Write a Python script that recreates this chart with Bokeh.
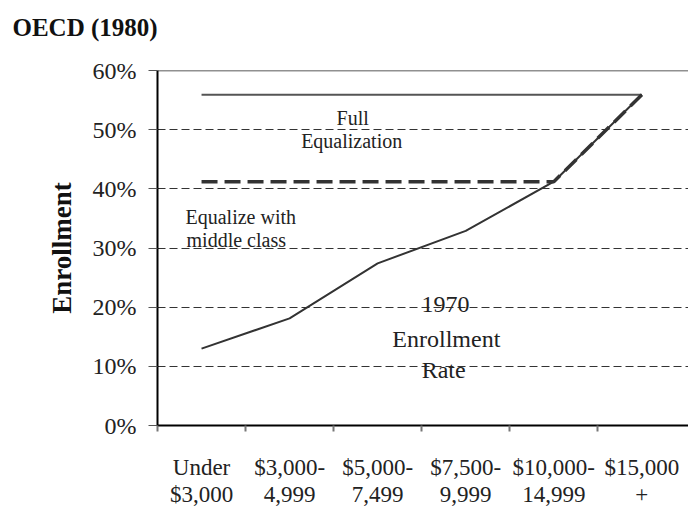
from bokeh.plotting import figure
from bokeh.models import Range1d, FixedTicker, NumeralTickFormatter, Span, Label, Title
from bokeh.embed import file_html
from bokeh.resources import INLINE

# ---- data ----
categories = ["Under\n$3,000", "$3,000-\n4,999", "$5,000-\n7,499",
              "$7,500-\n9,999", "$10,000-\n14,999", "$15,000\n+"]
enrollment_1970 = [0.13, 0.181, 0.274, 0.329, 0.412, 0.559]
full_equalization = [0.559, 0.559, 0.559, 0.559, 0.559, 0.559]
middle_class = [0.412, 0.412, 0.412, 0.412, 0.412, 0.559]
y_ticks = [0.0, 0.1, 0.2, 0.3, 0.4, 0.5, 0.6]
grid_ticks = [0.1, 0.2, 0.3, 0.4, 0.5]

SERIF = "Liberation Serif"

xs = [i + 0.5 for i in range(len(categories))]
bounds = list(range(len(categories)))

p = figure(width=688, height=510, output_backend="svg", toolbar_location=None,
           x_range=Range1d(0, 6.03), y_range=Range1d(0, 0.6),
           min_border_left=157, min_border_right=0, min_border_top=70,
           min_border_bottom=83, outline_line_color=None,
           background_fill_color="white", border_fill_color="white")

# chart title (a blank second line lifts it to the top of the canvas)
p.title = Title(text="OECD (1980)\n ", align="left", offset=-145,
                text_font=SERIF, text_font_size="25px", text_font_style="bold",
                text_color="#111111", vertical_align="bottom", standoff=6)

# x axis
xa = p.xaxis[0]
xa.ticker = FixedTicker(ticks=xs, minor_ticks=bounds)
xa.major_label_overrides = {x: c for x, c in zip(xs, categories)}
xa.major_tick_line_color = None
xa.major_tick_out = 0
xa.major_tick_in = 0
xa.minor_tick_out = 6
xa.minor_tick_in = 0
xa.minor_tick_line_color = "#777777"
xa.minor_tick_line_width = 2
xa.axis_line_color = "black"
xa.axis_line_width = 2
xa.major_label_standoff = 23
xa.major_label_text_font = SERIF
xa.major_label_text_font_size = "23px"
xa.major_label_text_color = "#222222"
xa.major_label_text_line_height = 1.1

# y axis
ya = p.yaxis[0]
ya.ticker = FixedTicker(ticks=y_ticks)
ya.formatter = NumeralTickFormatter(format="0%")
ya.major_tick_out = 9
ya.major_tick_in = 0
ya.major_tick_line_color = "#555555"
ya.minor_tick_line_color = None
ya.axis_line_color = "black"
ya.axis_line_width = 2
ya.major_label_standoff = 12
ya.major_label_text_font = SERIF
ya.major_label_text_font_size = "24px"
ya.major_label_text_color = "#222222"
ya.axis_label = "Enrollment"
ya.axis_label_text_font = SERIF
ya.axis_label_text_font_size = "27px"
ya.axis_label_text_font_style = "bold"
ya.axis_label_text_color = "#111111"
ya.axis_label_standoff = 13

# grid
p.xgrid.visible = False
p.ygrid.ticker = FixedTicker(ticks=grid_ticks)
p.ygrid.grid_line_color = "#333333"
p.ygrid.grid_line_dash = "8 4"
p.ygrid.grid_line_width = 1

p.add_layout(Span(location=y_ticks[-1], dimension="width",
                  line_color="#222222", line_width=1.5))

# series
p.line(xs, full_equalization, line_color="#555555", line_width=2)
p.line(xs, enrollment_1970, line_color="#333333", line_width=2)
p.line(xs, middle_class, line_color="#333333", line_width=3.5, line_dash="16 7")

# annotations
def note(x, y, t, size="20px", align="center"):
    p.add_layout(Label(x=x, y=y, text=t, text_font=SERIF, text_font_size=size,
                       text_color="#222222", text_align=align,
                       text_baseline="alphabetic"))

note(2.216, 0.520, "Full")
note(2.205, 0.481, "Equalization")
note(0.318, 0.353, "Equalize with", align="left")
note(0.33, 0.313, "middle class", align="left")
note(3.27, 0.205, "1970", size="24px")
note(3.28, 0.146, "Enrollment", size="24px")
note(3.25, 0.093, "Rate", size="24px")

open("out.html", "w").write(file_html(p, INLINE))
